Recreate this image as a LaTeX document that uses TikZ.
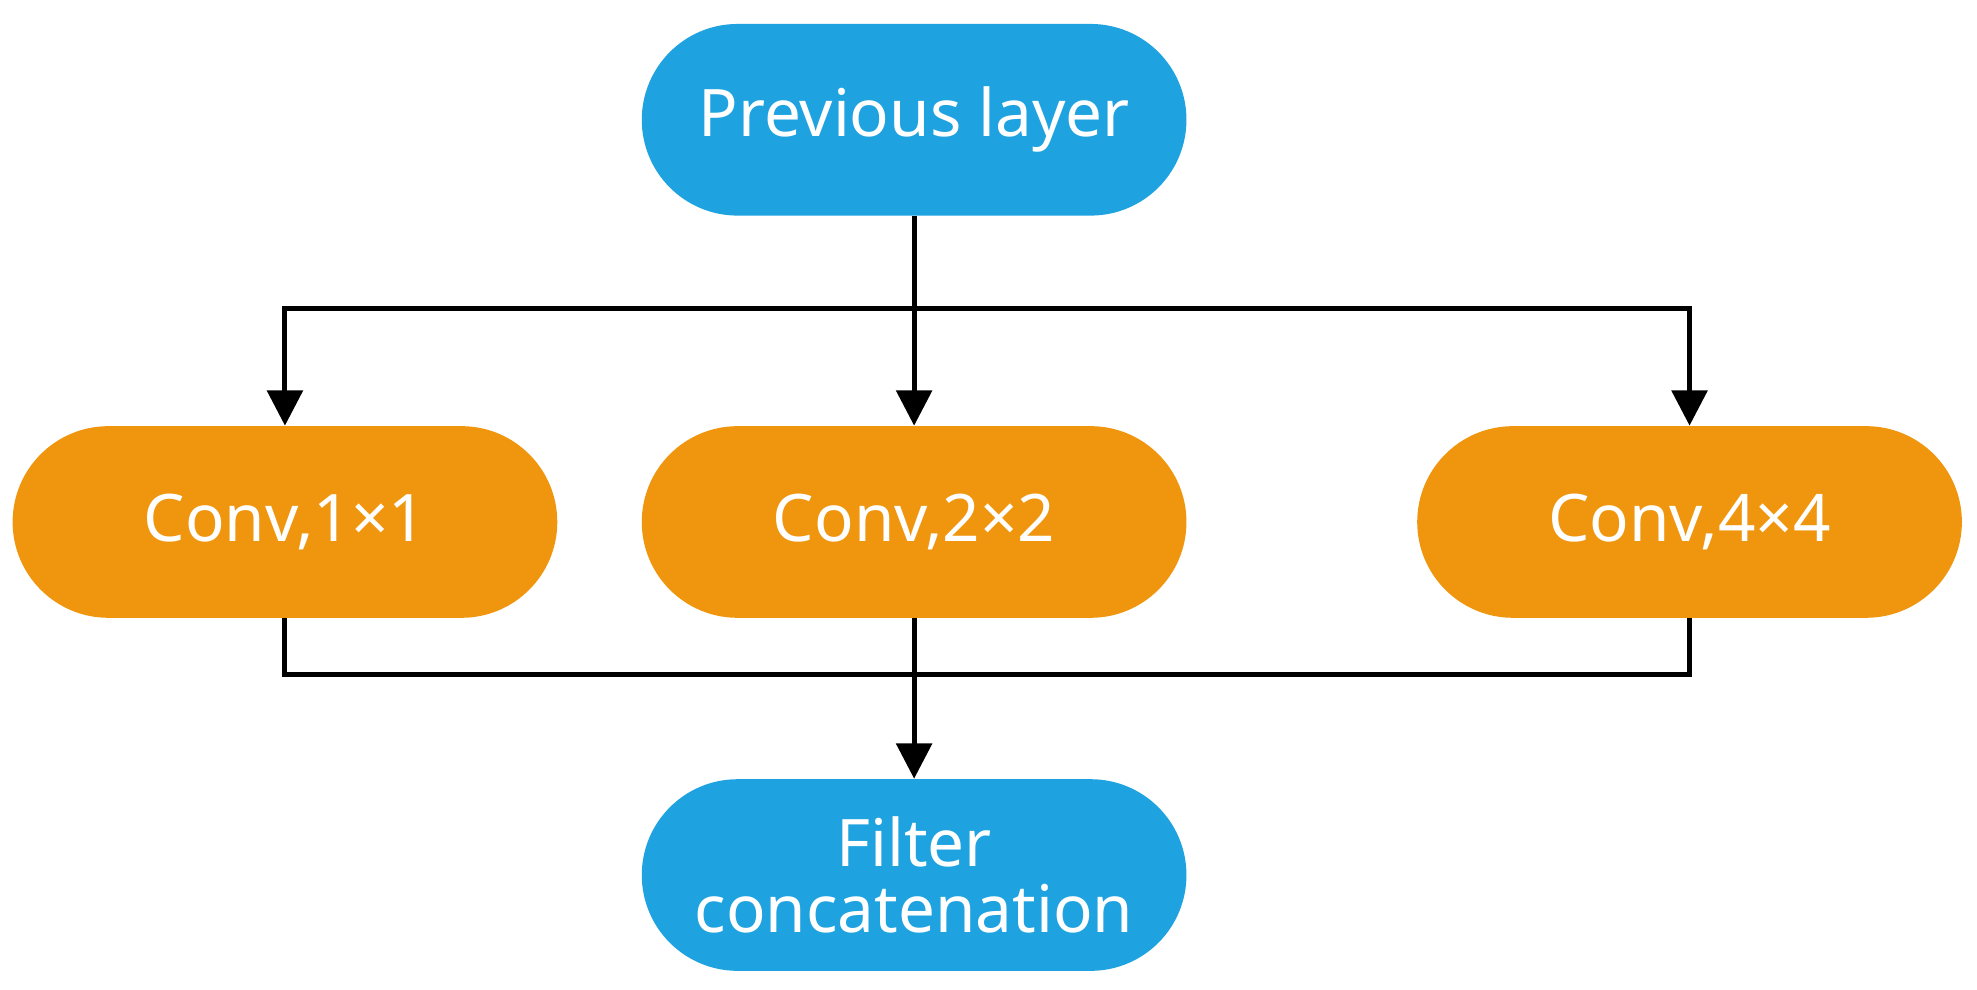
\documentclass[tikz,border=0pt]{standalone}
\usepackage{fontspec}
\setmainfont{Noto Sans}
\usetikzlibrary{arrows.meta}
\definecolor{cblue}{HTML}{1FA3E0}
\definecolor{corange}{HTML}{F0960E}
\begin{document}
\begin{tikzpicture}[x=0.5pt,y=-0.5pt,
  box/.style={minimum width=216pt,minimum height=76pt,rounded corners=38pt,text=white,
    font=\fontsize{26}{30}\selectfont,align=center,inner sep=0pt},
  bl/.style={box,fill=cblue}, or/.style={box,fill=corange},
  ln/.style={line width=2pt},
  ar/.style={ln,-{Triangle[length=14pt,width=14pt]}}]
\useasboundingbox (0,0) rectangle (1568,785);
\node[bl] (prev) at (725,95) {Previous layer};
\node[or] (c1) at (226,414) {Conv,1×1};
\node[or] (c2) at (725,414) {Conv,2×2};
\node[or] (c4) at (1340,414) {Conv,4×4};
\node[bl] (fc) at (725,694) {Filter\\[-4pt]concatenation};
\coordinate (t) at (725,245);
\coordinate (b) at (725,535);
\draw[ln] (prev.south) -- (t);
\draw[ar] (t) -| (c1.north);
\draw[ar] (t) -- (c2.north);
\draw[ar] (t) -| (c4.north);
\draw[ln] (c1.south) |- (b);
\draw[ln] (c4.south) |- (b);
\draw[ar] (c2.south) -- (fc.north);
\end{tikzpicture}
\end{document}
